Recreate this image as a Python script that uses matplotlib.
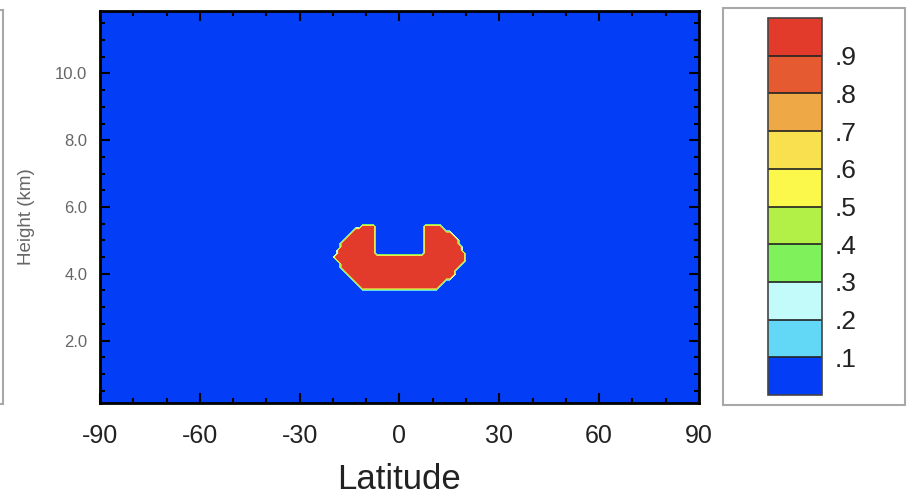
import matplotlib
matplotlib.use("Agg")
import matplotlib.pyplot as plt
import numpy as np
from matplotlib.colors import ListedColormap, BoundaryNorm
from matplotlib.patches import Rectangle
from matplotlib.path import Path
from matplotlib.ticker import MultipleLocator, FixedLocator

plt.rcParams["font.family"] = ["Liberation Sans", "DejaVu Sans"]

# contour levels and fill colours, lowest band first
levels = [0.0, 0.1, 0.2, 0.3, 0.4, 0.5, 0.6, 0.7, 0.8, 0.9, 1.0]
band_colors = [
    "#033df6", "#63d8f6", "#c3fbfa", "#7ff25b", "#b2f047",
    "#fbf84b", "#f9e04f", "#eea845", "#e65a31", "#e23b2b",
]
cbar_ticks = [0.1, 0.2, 0.3, 0.4, 0.5, 0.6, 0.7, 0.8, 0.9]
cbar_labels = [".1", ".2", ".3", ".4", ".5", ".6", ".7", ".8", ".9"]

# outline of the region where the field equals 1 (latitude, km)
shape_lat = [-11.1, -7.2, -7.2, 7.8, 7.8, 11.7, 14.8, 16.9, 18.7, 19.9,
             18.7, 16.9, 15.4, 13.0, 11.7, -11.1, -12.3, -14.7, -16.6,
             -18.1, -19.3, -18.1, -16.3, -14.1]
shape_hgt = [5.44, 5.44, 4.60, 4.60, 5.44, 5.44, 5.23, 5.05, 4.75, 4.54,
             4.33, 4.10, 3.92, 3.74, 3.56, 3.56, 3.74, 3.92, 4.10,
             4.33, 4.54, 4.75, 5.05, 5.23]

lat_ticks = [-90, -60, -30, 0, 30, 60, 90]
hgt_ticks = [2.0, 4.0, 6.0, 8.0, 10.0]

# gridded field: 1 inside the outline, 0 elsewhere
lat = np.arange(-90, 90.5, 1.0)
hgt = np.arange(0.0, 12.05, 0.1)
LAT, HGT = np.meshgrid(lat, hgt)
outline = Path(np.column_stack([shape_lat, shape_hgt]))
inside = outline.contains_points(np.column_stack([LAT.ravel(), HGT.ravel()]))
field = inside.reshape(LAT.shape).astype(float)

W, H = 910, 495
fig = plt.figure(figsize=(W / 100, H / 100), dpi=100)

# frames around the side panels
fig.add_artist(Rectangle((723 / W, (H - 405) / H), 182 / W, 397 / H,
                         transform=fig.transFigure, facecolor="white",
                         edgecolor="#a8a8a8", lw=1.5, zorder=0))
fig.add_artist(Rectangle((-0.05, (H - 404) / H), 0.05 + 3 / W, 394 / H,
                         transform=fig.transFigure, facecolor="none",
                         edgecolor="#a8a8a8", lw=1.5, zorder=0))

ax = fig.add_axes([100 / W, (H - 403) / H, 599 / W, 392 / H])
cmap = ListedColormap(band_colors)
norm = BoundaryNorm(levels, cmap.N)
cf = ax.contourf(LAT, HGT, field, levels=levels, cmap=cmap, norm=norm)

ax.set_xlim(-90, 90)
ax.set_ylim(0.13, 11.87)
ax.xaxis.set_major_locator(FixedLocator(lat_ticks))
ax.xaxis.set_minor_locator(MultipleLocator(10))
ax.yaxis.set_major_locator(FixedLocator(hgt_ticks))
ax.yaxis.set_minor_locator(MultipleLocator(0.5))
ax.set_xticklabels([str(v) for v in lat_ticks])
ax.set_yticklabels([f"{v:.1f}" for v in hgt_ticks])
ax.tick_params(which="both", direction="in", top=True, right=True,
               color="black", width=1.5)
ax.tick_params(which="major", length=7)
ax.tick_params(which="minor", length=3.5)
ax.tick_params(axis="x", which="major", labelsize=18, pad=15, labelcolor="#222222")
ax.tick_params(axis="y", which="major", labelsize=12, pad=9, labelcolor="#666666")
for sp in ax.spines.values():
    sp.set_linewidth(2)
    sp.set_color("black")

ax.set_xlabel("Latitude", fontsize=25, color="#222222")
ax.xaxis.set_label_coords(0.5, -0.152)
ax.set_ylabel("Height (km)", fontsize=13.5, color="#666666")
ax.yaxis.set_label_coords(-0.109, 0.475)

cax = fig.add_axes([768 / W, (H - 395) / H, 54 / W, 377 / H])
cb = fig.colorbar(cf, cax=cax, ticks=cbar_ticks, drawedges=True)
cb.ax.minorticks_off()
cb.ax.set_yticklabels(cbar_labels)
cb.ax.tick_params(length=0, pad=9, labelsize=19, labelcolor="#222222")
cb.outline.set_edgecolor("#444444")
cb.outline.set_linewidth(1.2)
cb.dividers.set_color("#222222")
cb.dividers.set_linewidth(1.2)

fig.savefig("out.png", dpi=100)
plt.close(fig)
